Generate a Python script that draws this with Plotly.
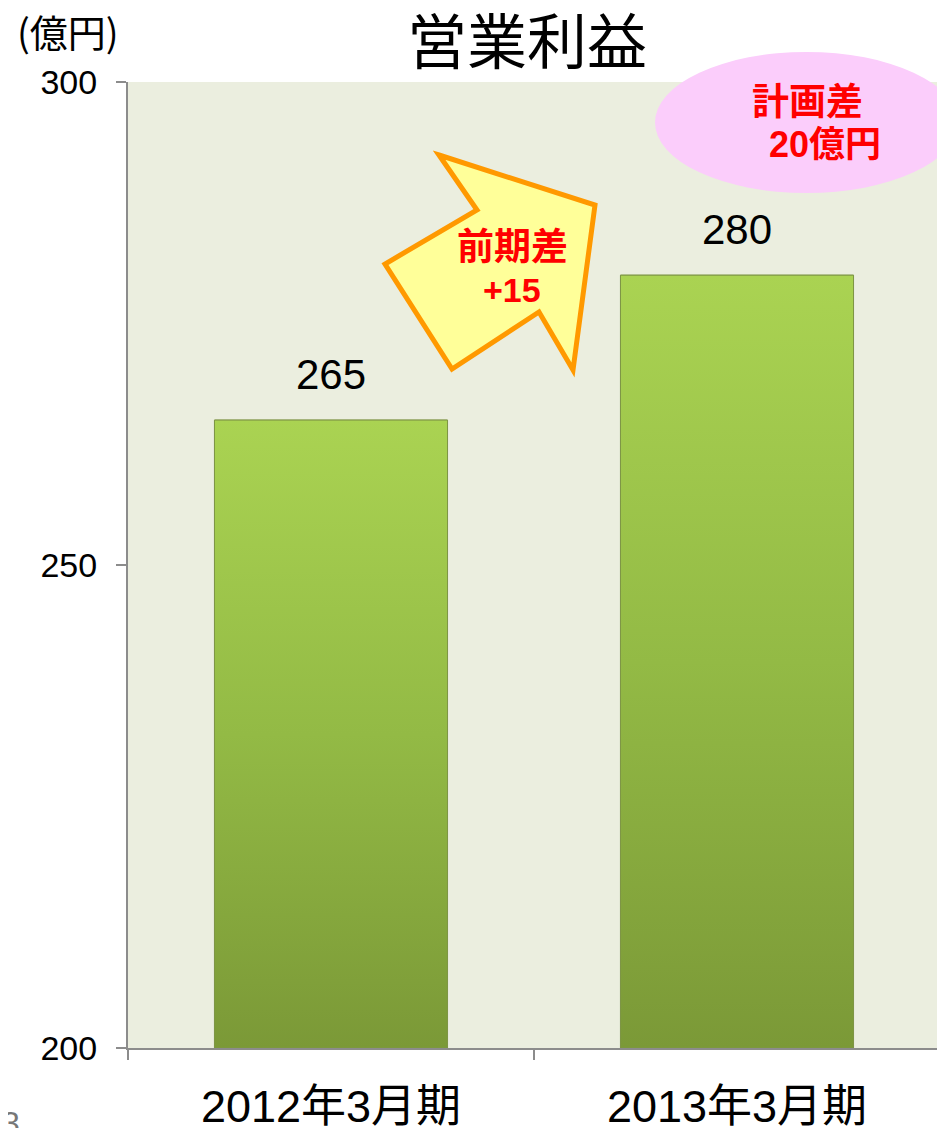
import plotly.graph_objects as go

categories = ["2012年3月期", "2013年3月期"]
values = [265, 280]
value_labels = ["265", "280"]
y_ticks = [200, 250, 300]
title_text = "営業利益"
unit_text = "(億円)"
arrow_lines = ["前期差", "+15"]
bubble_lines = ["計画差", "20億円"]

OFF = 8  # page body margin
W, H = 945 - OFF, 1128 - OFF
L, R, T, B = 120, 5, 74, 80
PW, PH = W - L - R, H - T - B


def px(xs):
    """screen pixel x -> paper x"""
    return (xs - OFF - L) / PW


def py(ys):
    """screen pixel y -> paper y"""
    return (H - B - (ys - OFF)) / PH


BAR_W = 0.574
BASE = y_ticks[0]

fig = go.Figure()
fig.add_trace(go.Bar(
    x=categories, y=values,
    marker=dict(color="#93B845", line=dict(color="#7E9646", width=1)),
    width=BAR_W, hoverinfo="skip", showlegend=False,
))

# gradient overlay for each bar, derived from the data
for i, v in enumerate(values):
    x0, x1 = i - BAR_W / 2, i + BAR_W / 2
    fig.add_trace(go.Scatter(
        x=[x0, x1, x1, x0, x0], y=[BASE, BASE, v, v, BASE],
        xaxis="x2", mode="lines", fill="toself",
        line=dict(color="#7E9646", width=1),
        fillgradient=dict(type="vertical",
                          colorscale=[[0, "#7B9937"], [0.5, "#93BA45"], [1, "#AAD352"]]),
        hoverinfo="skip", showlegend=False,
    ))

annotations = []
for cat, v, lab in zip(categories, values, value_labels):
    annotations.append(dict(
        x=cat, y=v, xref="x", yref="y", text=lab, showarrow=False,
        xanchor="center", yanchor="middle", yshift=46,
        font=dict(family="Liberation Sans, Arial", size=42, color="#000000"),
    ))


def pa(xs, ys, text, family, size, color):
    return dict(x=px(xs), y=py(ys), xref="paper", yref="paper", text=text,
                showarrow=False, xanchor="center", yanchor="middle",
                font=dict(family=family, size=size, color=color))


annotations += [
    pa(527, 38, title_text, "Noto Sans CJK JP", 60, "#000000"),
    pa(68, 30, unit_text, "Noto Sans CJK JP", 38, "#000000"),
    pa(512, 244, "<b>" + arrow_lines[0] + "</b>", "Noto Sans CJK JP", 37, "#FF0000"),
    pa(512, 290, "<b>" + arrow_lines[1] + "</b>", "Liberation Sans, Arial", 34, "#FF0000"),
    pa(807, 99, "<b>" + bubble_lines[0] + "</b>", "Noto Sans CJK JP", 37, "#FF0000"),
    pa(825, 145, "<b>" + bubble_lines[1] + "</b>", "Liberation Sans, Noto Sans CJK JP", 36, "#FF0000"),
    pa(11, 1123, "3", "Liberation Sans, Arial", 32, "#777777"),
]

arrow_pts = [(439, 155), (595, 205), (573, 370), (539, 312), (452, 369), (385, 264), (477, 210)]
path = "M " + " L ".join(f"{px(x):.5f},{py(y):.5f}" for x, y in arrow_pts) + " Z"

shapes = [
    dict(type="circle", xref="paper", yref="paper",
         x0=px(655), x1=px(958), y0=py(193), y1=py(52),
         fillcolor="#FBCDFB", line=dict(width=0), layer="above"),
    dict(type="path", xref="paper", yref="paper", path=path,
         fillcolor="#FFFF99", line=dict(color="#FF9900", width=5), layer="above"),
]

fig.update_layout(
    width=W, height=H,
    margin=dict(l=L, r=R, t=T, b=B, pad=0, autoexpand=False),
    paper_bgcolor="#FFFFFF", plot_bgcolor="#EBEEDF",
    showlegend=False,
    annotations=annotations, shapes=shapes,
    xaxis=dict(
        type="category", range=[-0.5, 1.5],
        showline=True, linecolor="#8C8C8C", linewidth=2,
        ticks="outside", tickson="boundaries", ticklen=10, tickcolor="#8C8C8C", tickwidth=2,
        showgrid=False, zeroline=False,
        tickfont=dict(family="Liberation Sans, Noto Sans CJK JP", size=45, color="#000000"),
        ticklabelstandoff=18,
    ),
    xaxis2=dict(overlaying="x", range=[-0.5, 1.5], visible=False),
    yaxis=dict(
        range=[200, 300], tickvals=y_ticks, ticktext=[str(t) for t in y_ticks],
        showline=True, linecolor="#8C8C8C", linewidth=2,
        ticks="outside", ticklen=10, tickcolor="#8C8C8C", tickwidth=2,
        showgrid=False, zeroline=False,
        tickfont=dict(family="Liberation Sans, Arial", size=34, color="#000000"),
        ticklabelstandoff=12,
    ),
)

fig.write_html("out.html")
